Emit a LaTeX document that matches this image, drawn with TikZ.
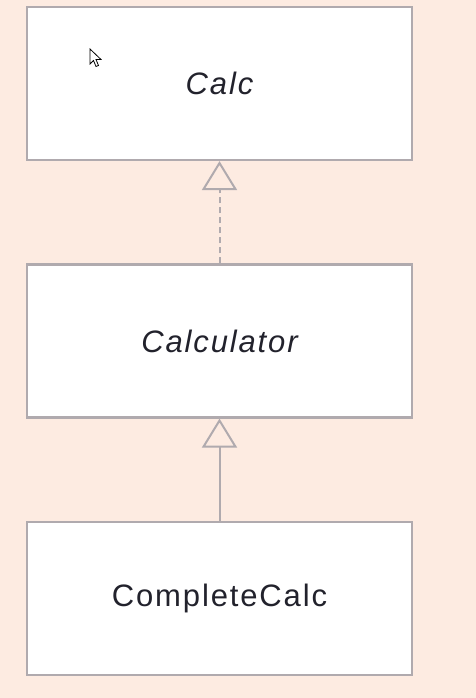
\documentclass[tikz,border=0pt]{standalone}
\usepackage{fontspec}
\setmainfont{Liberation Sans}[LetterSpace=6]
\usetikzlibrary{arrows.meta}
\definecolor{bg}{HTML}{FDEBE1}
\definecolor{edge}{HTML}{B0AAAE}
\definecolor{txt}{HTML}{22222C}
\begin{document}
\begin{tikzpicture}[x=1pt,y=-1pt,
  classbox/.style={draw=edge, line width=2.2pt, fill=white, minimum width=385pt, minimum height=153pt, inner sep=0pt, font=\fontsize{31}{37}\selectfont, text=txt},
  realize/.style={draw=edge, line width=2pt, dash pattern=on 6pt off 4pt, -{Triangle[open, width=35pt, length=29pt, line width=2pt]}},
  inherit/.style={draw=edge, line width=2pt, -{Triangle[open, width=35pt, length=29pt, line width=2pt]}}
]
\fill[bg] (0,0) rectangle (476,698);
\useasboundingbox (0,0) rectangle (476,698);
\node[classbox] (calc) at (219.5,83.5) {\itshape Calc};
\node[classbox] (calculator) at (219.5,341) {\itshape Calculator};
\node[classbox] (complete) at (219.5,598.5) {CompleteCalc};
\draw[realize] (calculator.north) -- (calc.south);
\draw[inherit] (complete.north) -- (calculator.south);
% mouse cursor
\draw[black, fill=white, line width=0.8pt, line join=miter]
  (90,49) -- (90,64) -- (93.5,60.5) -- (96,66.5) -- (98.5,65.5) -- (96,59.5) -- (101,59.5) -- cycle;
\end{tikzpicture}
\end{document}
